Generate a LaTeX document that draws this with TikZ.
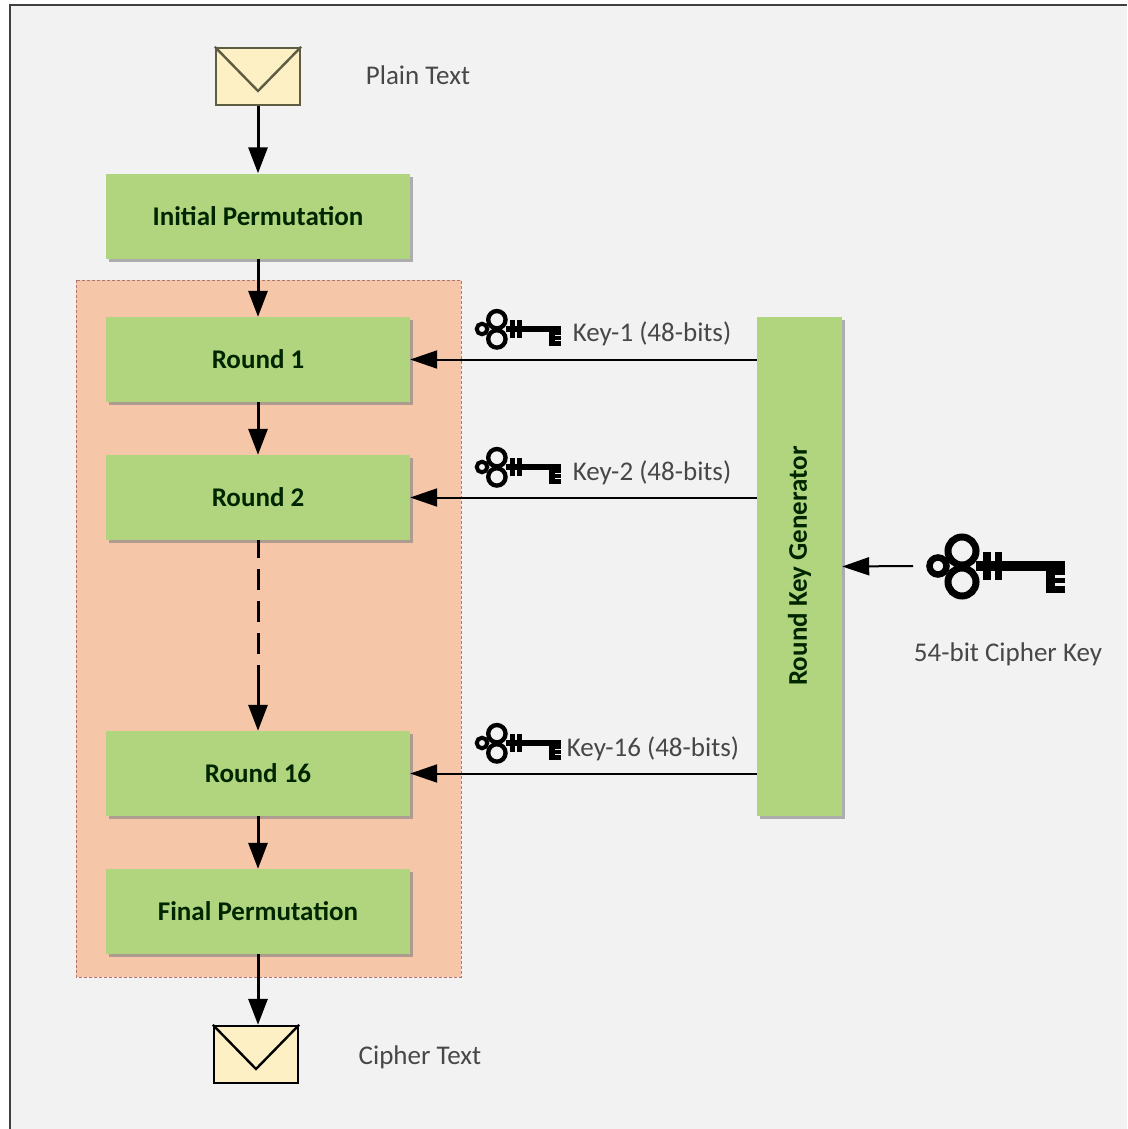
\documentclass[tikz,border=0pt]{standalone}
\usepackage{fontspec}
\setmainfont{Carlito}
\usetikzlibrary{arrows.meta,calc,shadows}
\definecolor{panelgray}{HTML}{F2F2F2}
\definecolor{boxgreen}{HTML}{B1D57F}
\definecolor{blockorange}{HTML}{F6C6A8}
\definecolor{envcream}{HTML}{FDF0C4}
\tikzset{
	stagebox/.style={draw=none, fill=boxgreen, minimum width=304pt, minimum height=85pt, inner sep=0pt, drop shadow={shadow xshift=3pt, shadow yshift=-3pt, fill=black!50, opacity=0.6}, text=black!85!green, font=\fontsize{27}{30}\selectfont\bfseries},
	envbox/.style={draw=#1, line width=2.4pt, fill=envcream, minimum width=84pt, minimum height=57pt, inner sep=0pt},
	notelabel/.style={text=black!72, inner sep=0pt, font=\fontsize{27}{30}\selectfont},
	flow/.style={line width=3pt, -{Triangle[length=26pt, width=19pt]}},
	keyflow/.style={line width=2pt, -{Triangle[length=27pt, width=18pt]}}
}
\def\drawkey(#1,#2)(#3){
	\begin{scope}[shift={(#1,#2)}, scale=#3]
		\draw[line width=#3*6.5pt] (0, 0) circle (8.5);
		\draw[line width=#3*7pt] (24, -15) circle (14);
		\draw[line width=#3*7pt] (24, 16) circle (14);
		\fill (38, -5) rectangle (127, 5);
		\fill (45, -14) rectangle (53, 14);
		\fill (57, -14) rectangle (64, 14);
		\fill (108, 0) rectangle (127, 27);
		\fill[panelgray] (117, 9) rectangle (127, 12);
		\fill[panelgray] (117, 17) rectangle (127, 20);
	\end{scope}
}

\begin{document}
\begin{tikzpicture}[x=1pt, y=-1pt]
	%%%%% START %%%%%
	\useasboundingbox (0, 0) rectangle (1127, 1129);

	\fill[panelgray] (10, 5) rectangle (1127, 1129);
	\draw[line width=2.5pt, color=black!75] (10, 1129) -- (10, 5) -- (1127, 5);

	\draw[fill=blockorange, draw=red!45!black!55, densely dashed, line width=0.8pt] (76, 280) rectangle (461, 977);

	\node[envbox=black!60!yellow!70!black] (plainenv) at (258, 76.5) {};
	\draw[line width=2.4pt, color=black!60!yellow!70!black] (plainenv.north west) -- (258, 91) -- (plainenv.north east);
	\node[notelabel] (plainlabel) at (418, 75) {Plain Text};

	\node[stagebox] (initperm) at (258, 216) {Initial Permutation};
	\node[stagebox] (round1) at (258, 359.5) {Round 1};
	\node[stagebox] (round2) at (258, 497.5) {Round 2};
	\node[stagebox] (round16) at (258, 773.5) {Round 16};
	\node[stagebox] (finalperm) at (258, 911.5) {Final Permutation};

	\node[envbox=black] (cipherenv) at (256, 1054.5) {};
	\draw[line width=2.4pt] (cipherenv.north west) -- (256, 1069) -- (cipherenv.north east);
	\node[notelabel] (cipherlabel) at (420, 1057) {Cipher Text};

	\node[stagebox, minimum width=85pt, minimum height=499pt] (keygen) at (799.5, 566.5) {};
	\node[rotate=90, text=black!85!green, font=\fontsize{27}{30}\selectfont\bfseries, inner sep=0pt] (keygenlabel) at (799.5, 566) {Round Key Generator};

	\draw[flow] (plainenv.south) -- (initperm.north);
	\draw[flow] (initperm.south) -- (round1.north);
	\draw[flow] (round1.south) -- (round2.north);
	\coordinate (dashend) at (258, 666);
	\draw[line width=3pt, dash pattern=on 21pt off 11pt, dash phase=3pt] (round2.south) -- (dashend);
	\draw[flow] (dashend) -- (round16.north);
	\draw[flow] (round16.south) -- (finalperm.north);
	\draw[flow] (finalperm.south) -- (finalperm.south |- cipherenv.north);

	\draw[keyflow] (keygen.west |- round1.east) -- (round1.east);
	\draw[keyflow] (keygen.west |- round2.east) -- (round2.east);
	\draw[keyflow] (keygen.west |- round16.east) -- (round16.east);

	\coordinate (cipherkeyend) at (913, 566);
	\draw[keyflow] (cipherkeyend) -- (keygen.east);

	\drawkey(482, 329)(0.62)
	\drawkey(482, 467)(0.62)
	\drawkey(482, 743)(0.62)
	\drawkey(938, 566)(1)

	\node[notelabel] (key1label) at (652, 334) {Key-1 (48-bits)};
	\node[notelabel] (key2label) at (652, 473) {Key-2 (48-bits)};
	\node[notelabel] (key16label) at (653, 749) {Key-16 (48-bits)};
	\node[notelabel] (cipherkeylabel) at (1008, 654) {54-bit Cipher Key};
	%%%%% END %%%%%
\end{tikzpicture}
\end{document}
